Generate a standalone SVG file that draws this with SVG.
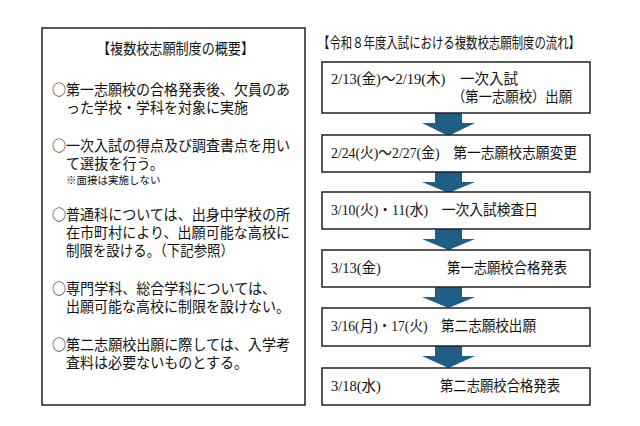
<svg xmlns="http://www.w3.org/2000/svg" width="640" height="426" viewBox="0 0 640 426">
<style>
.g{font-family:"Noto Sans CJK JP",sans-serif;font-size:14.5px;fill:#111}
.s{font-family:"Noto Sans CJK JP",sans-serif;font-size:10.5px;fill:#111}
.m{font-family:"Liberation Serif","Noto Sans CJK JP",serif;font-size:14.5px;fill:#111}
.b{fill:#fff;stroke:#222;stroke-width:1.5}
.a{fill:#1f5f86}
</style>
<rect width="640" height="426" fill="#fff"/>
<g id="overview">
<rect class="b" x="42" y="28" width="263" height="377"/>
<text class="g" x="97" y="54" textLength="157" lengthAdjust="spacingAndGlyphs">【複数校志願制度の概要】</text>
<text class="g" x="52" y="95" textLength="238" lengthAdjust="spacingAndGlyphs">○第一志願校の合格発表後、欠員のあ</text>
<text class="g" x="66" y="113" textLength="182" lengthAdjust="spacingAndGlyphs">った学校・学科を対象に実施</text>
<text class="g" x="52" y="151" textLength="238" lengthAdjust="spacingAndGlyphs">○一次入試の得点及び調査書点を用い</text>
<text class="g" x="66" y="169" textLength="98" lengthAdjust="spacingAndGlyphs">て選抜を行う。</text>
<text class="s" x="66" y="184">※面接は実施しない</text>
<text class="g" x="52" y="220" textLength="238" lengthAdjust="spacingAndGlyphs">○普通科については、出身中学校の所</text>
<text class="g" x="66" y="238" textLength="224" lengthAdjust="spacingAndGlyphs">在市町村により、出願可能な高校に</text>
<text class="g" x="66" y="256" textLength="168" lengthAdjust="spacingAndGlyphs">制限を設ける。（下記参照）</text>
<text class="g" x="52" y="294" textLength="224" lengthAdjust="spacingAndGlyphs">○専門学科、総合学科については、</text>
<text class="g" x="66" y="312" textLength="224" lengthAdjust="spacingAndGlyphs">出願可能な高校に制限を設けない。</text>
<text class="g" x="52" y="350" textLength="238" lengthAdjust="spacingAndGlyphs">○第二志願校出願に際しては、入学考</text>
<text class="g" x="66" y="368" textLength="182" lengthAdjust="spacingAndGlyphs">査料は必要ないものとする。</text>
</g>
<text class="m" x="318" y="48" font-size="13" textLength="262" lengthAdjust="spacingAndGlyphs">【令和８年度入試における複数校志願制度の流れ】</text>
<g id="connectors">
<polygon class="a" points="435,113 462,113 462,123 475,123 448.5,136 422,123 435,123"/>
<polygon class="a" points="435,172 462,172 462,182 475,182 448.5,193 422,182 435,182"/>
<polygon class="a" points="435,229 462,229 462,239 475,239 448.5,250 422,239 435,239"/>
<polygon class="a" points="435,287 462,287 462,297 475,297 448.5,308 422,297 435,297"/>
<polygon class="a" points="435,346 462,346 462,356 475,356 448.5,368 422,356 435,356"/>
</g>
<g id="step1"><rect class="b" x="322" y="62" width="268" height="51"/>
<text class="m" x="331" y="84">2/13(金)～2/19(木)</text>
<text class="m" x="460" y="84">一次入試</text>
<text class="m" x="452" y="102" textLength="120" lengthAdjust="spacingAndGlyphs">（第一志願校）出願</text></g>
<g id="step2"><rect class="b" x="322" y="135" width="268" height="37"/>
<text class="m" x="331" y="158" textLength="246" lengthAdjust="spacingAndGlyphs">2/24(火)～2/27(金)　第一志願校志願変更</text></g>
<g id="step3"><rect class="b" x="322" y="192" width="268" height="37"/>
<text class="m" x="331" y="215" textLength="207" lengthAdjust="spacingAndGlyphs">3/10(火)・11(水)　一次入試検査日</text></g>
<g id="step4"><rect class="b" x="322" y="250" width="268" height="37"/>
<text class="m" x="331" y="273">3/13(金)</text><text class="m" x="447" y="273" textLength="120" lengthAdjust="spacingAndGlyphs">第一志願校合格発表</text></g>
<g id="step5"><rect class="b" x="322" y="308" width="268" height="38"/>
<text class="m" x="331" y="331" textLength="205" lengthAdjust="spacingAndGlyphs">3/16(月)・17(火)　第二志願校出願</text></g>
<g id="step6"><rect class="b" x="322" y="368" width="268" height="37"/>
<text class="m" x="331" y="391">3/18(水)</text><text class="m" x="440" y="391" textLength="120" lengthAdjust="spacingAndGlyphs">第二志願校合格発表</text></g>
</svg>
